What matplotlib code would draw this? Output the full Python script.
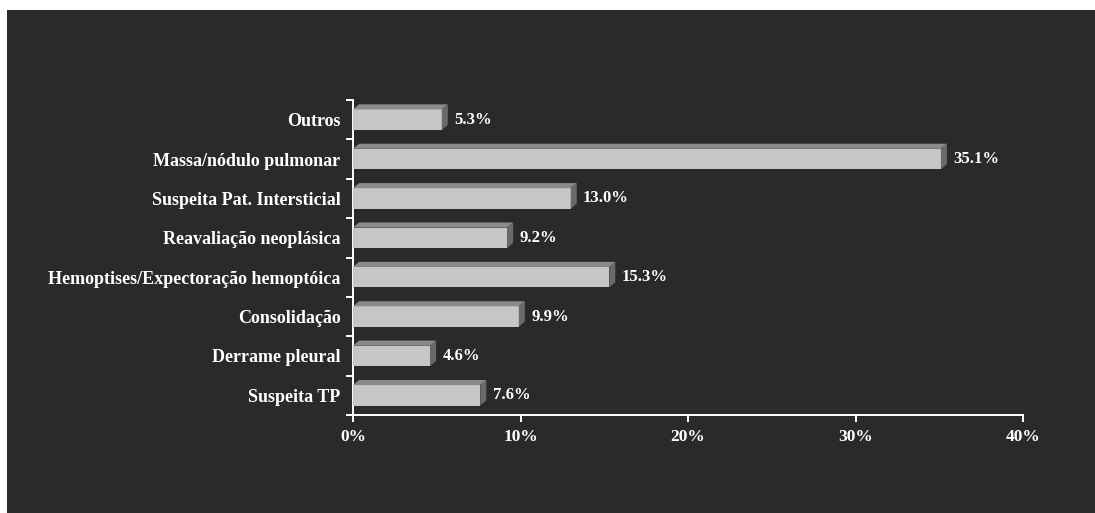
import matplotlib
matplotlib.use("Agg")
import matplotlib.pyplot as plt
from matplotlib.patches import Polygon, Rectangle
from matplotlib.ticker import FixedLocator, FuncFormatter

categories = ["Suspeita TP", "Derrame pleural", "Consolidação",
              "Hemoptises/Expectoração hemoptóica", "Reavaliação neoplásica",
              "Suspeita Pat. Intersticial", "Massa/nódulo pulmonar", "Outros"]
values = [7.6, 4.6, 9.9, 15.3, 9.2, 13.0, 35.1, 5.3]
xticks = [0, 10, 20, 30, 40]

BG = "#2a2a2a"
FRONT = "#c6c6c6"
TOP = "#8a8a8a"
SIDE = "#6a6a6a"
FONT = ["Liberation Serif", "DejaVu Serif"]

fig = plt.figure(figsize=(10.95, 5.13), dpi=100)
fig.patch.set_facecolor("white")
fig.add_artist(Rectangle((7/1095, 0), 1 - 7/1095, 503/513, transform=fig.transFigure,
                         facecolor=BG, edgecolor="none", zorder=-10))

ax = fig.add_axes([353/1095, 1 - 415/513, 670/1095, 315/513])
ax.set_facecolor("none")

h = 0.52
dx = 0.36   # depth in data units (x)
dy = 0.13   # depth in data units (y)
for i, v in enumerate(values):
    y0, y1 = i - h/2, i + h/2
    ax.add_patch(Rectangle((0, y0), v, h, facecolor=FRONT, edgecolor="none", zorder=3))
    ax.add_patch(Polygon([(0, y1), (v, y1), (v + dx, y1 + dy), (dx, y1 + dy)],
                         closed=True, facecolor=TOP, edgecolor="none", zorder=3))
    ax.add_patch(Polygon([(v, y0), (v + dx, y0 + dy), (v + dx, y1 + dy), (v, y1)],
                         closed=True, facecolor=SIDE, edgecolor="none", zorder=3))
    ax.annotate(f"{v:.1f}%", xy=(v + dx, i), xytext=(4.5, 0), textcoords="offset points",
                va="center", ha="left", color="white", fontsize=12,
                fontweight="bold", family=FONT)

ax.set_xlim(0, 40)
ax.set_ylim(-0.5, len(categories) - 0.5)
ax.set_xticks(xticks)
ax.xaxis.set_major_formatter(FuncFormatter(lambda x, p: f"{x:.0f}%"))
ax.set_yticks(range(len(categories)))
ax.set_yticklabels(categories)
ax.yaxis.set_minor_locator(FixedLocator([i - 0.5 for i in range(len(categories) + 1)]))

for s in ["top", "right"]:
    ax.spines[s].set_visible(False)
for s in ["left", "bottom"]:
    ax.spines[s].set_color("white")
    ax.spines[s].set_linewidth(1.4)

ax.tick_params(axis="y", which="major", length=0, pad=9)
ax.tick_params(axis="y", which="minor", length=5, width=1.4, color="white", direction="out")
ax.tick_params(axis="x", which="major", length=5, width=1.4, color="white", direction="out", pad=5)
for lab in ax.get_yticklabels():
    lab.set_color("white")
    lab.set_fontweight("bold")
    lab.set_family(FONT)
    lab.set_fontsize(13)
for lab in ax.get_xticklabels():
    lab.set_color("white")
    lab.set_fontweight("bold")
    lab.set_family(FONT)
    lab.set_fontsize(12.5)

fig.savefig("out.png", dpi=100, facecolor=fig.get_facecolor())
